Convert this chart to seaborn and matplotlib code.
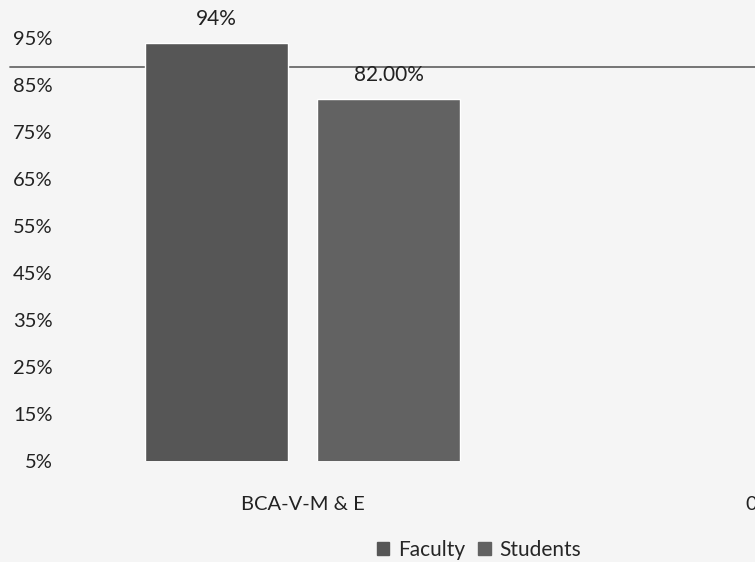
import matplotlib
matplotlib.use("Agg")
import matplotlib.pyplot as plt
import seaborn as sns
import pandas as pd

# Data
categories = ["BCA-V-M & E", "0"]
series = ["Faculty", "Students"]
faculty_values = [94, 0]
student_values = [82, 0]
value_labels = ["94%", "82.00%"]
y_ticks = [5, 15, 25, 35, 45, 55, 65, 75, 85, 95]
rule_level = 88.8

df = pd.DataFrame({
    "category": categories * 2,
    "group": [series[0]] * len(categories) + [series[1]] * len(categories),
    "value": faculty_values + student_values,
})

sns.set_theme(style="white")
plt.rcParams["font.family"] = ["Lato", "DejaVu Sans"]

bg = "#f5f5f5"
fig = plt.figure(figsize=(7.55, 5.62), dpi=100, facecolor=bg)
ax = fig.add_axes([75 / 755, 101 / 562, 680 / 755, 423 / 562])
ax.set_facecolor(bg)

palette = {"Faculty": "#565656", "Students": "#626262"}
sns.barplot(data=df, x="category", y="value", hue="group", order=categories,
            hue_order=series, palette=palette, width=0.766, gap=0.166,
            ax=ax, legend=False, zorder=2)

# Thin rule across the page
ax.axhline(rule_level, xmin=-0.096, xmax=1.0, color="#6a6a6a", lw=1.3,
           clip_on=False, zorder=1)

ax.set_ylim(5, 95)
ax.set_xlim(-0.5067, 1.0078)
ax.set_yticks(y_ticks)
ax.set_yticklabels([f"{t}%" for t in y_ticks], fontsize=14.5, color="#222222")
ax.tick_params(axis="y", length=0, pad=16)
ax.tick_params(axis="x", length=0, pad=25, labelsize=14.5, labelcolor="#222222")
ax.set_xlabel("")
ax.set_ylabel("")
for s in ax.spines.values():
    s.set_visible(False)

# Value labels over the first group's bars
for cont, lab in zip(ax.containers, value_labels):
    bar = cont.patches[0]
    ax.annotate(lab, (bar.get_x() + bar.get_width() / 2, bar.get_height()),
                xytext=(0, 10), textcoords="offset points", ha="center",
                va="bottom", fontsize=15, color="#222222", annotation_clip=False)

handles = [plt.Rectangle((0, 0), 1, 1, color=palette[s]) for s in series]
fig.legend(handles, series, loc="center", bbox_to_anchor=(479 / 755, 12 / 562),
           ncol=2, frameon=False, fontsize=15, handlelength=0.6,
           handleheight=0.6, handletextpad=0.4, columnspacing=0.65)

fig.savefig("out.png", dpi=100, facecolor=bg)
